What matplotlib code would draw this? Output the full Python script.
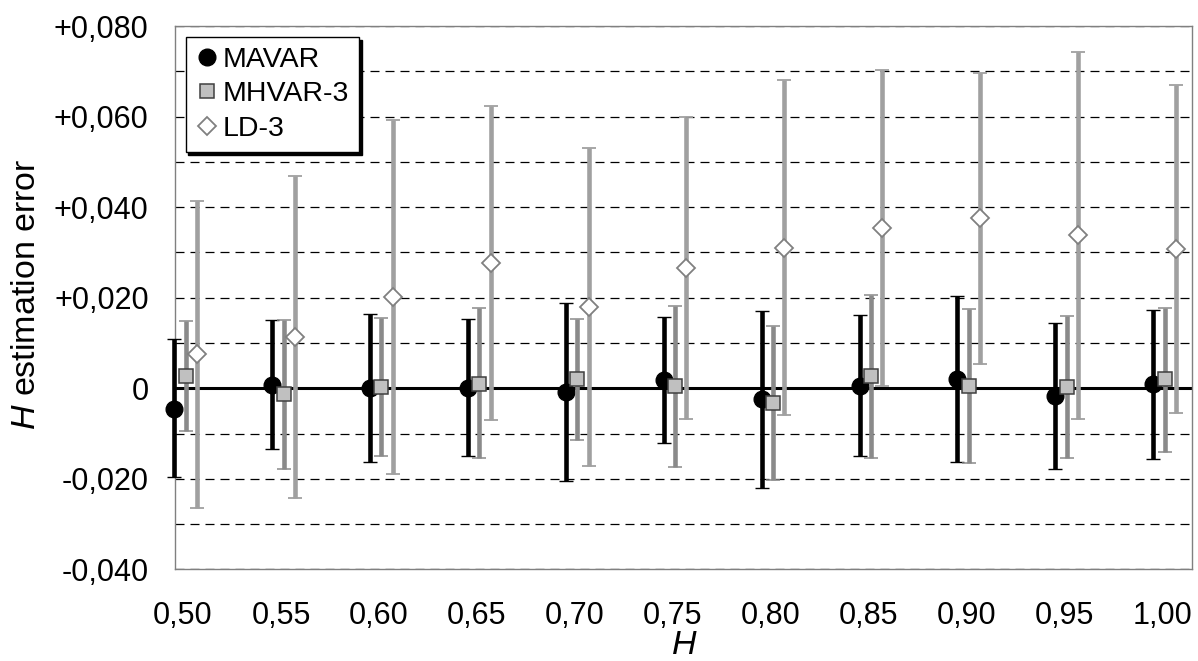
import numpy as np
import matplotlib
matplotlib.use("Agg")
import matplotlib.pyplot as plt
from matplotlib.lines import Line2D

plt.rcParams['font.family'] = ['Liberation Sans', 'DejaVu Sans']
plt.rcParams['mathtext.fontset'] = 'custom'
plt.rcParams['mathtext.it'] = 'Liberation Sans:italic'
plt.rcParams['mathtext.rm'] = 'Liberation Sans'

# Hurst parameter values
H = np.array([0.50, 0.55, 0.60, 0.65, 0.70, 0.75, 0.80, 0.85, 0.90, 0.95, 1.00])
h_labels = ["0,50", "0,55", "0,60", "0,65", "0,70", "0,75", "0,80", "0,85", "0,90", "0,95", "1,00"]

# mean estimation error and the ends of each error bar
mavar_mean = np.array([-0.0045, 0.0008, 0.0000, 0.0001, -0.0009, 0.0018, -0.0023, 0.0006, 0.0020, -0.0018, 0.0009])
mavar_hi = np.array([0.0109, 0.0150, 0.0164, 0.0152, 0.0189, 0.0158, 0.0170, 0.0161, 0.0203, 0.0143, 0.0172])
mavar_lo = np.array([-0.0196, -0.0135, -0.0162, -0.0149, -0.0206, -0.0122, -0.0220, -0.0149, -0.0163, -0.0179, -0.0157])

mhvar_mean = np.array([0.0028, -0.0013, 0.0002, 0.0010, 0.0020, 0.0004, -0.0033, 0.0026, 0.0006, 0.0003, 0.0020])
mhvar_hi = np.array([0.0149, 0.0150, 0.0156, 0.0177, 0.0154, 0.0182, 0.0137, 0.0206, 0.0174, 0.0160, 0.0178])
mhvar_lo = np.array([-0.0094, -0.0179, -0.0150, -0.0155, -0.0115, -0.0174, -0.0202, -0.0155, -0.0165, -0.0154, -0.0141])

ld_mean = np.array([0.0076, 0.0113, 0.0202, 0.0276, 0.0180, 0.0265, 0.0309, 0.0354, 0.0375, 0.0338, 0.0308])
ld_hi = np.array([0.0414, 0.0468, 0.0593, 0.0623, 0.0531, 0.0598, 0.0680, 0.0703, 0.0697, 0.0743, 0.0669])
ld_lo = np.array([-0.0264, -0.0242, -0.0190, -0.0070, -0.0172, -0.0069, -0.0060, 0.0005, 0.0054, -0.0069, -0.0054])

y_ticks = [-0.04, -0.02, 0.0, 0.02, 0.04, 0.06, 0.08]
y_labels = ["-0,040", "-0,020", "0", "+0,020", "+0,040", "+0,060", "+0,080"]

fig = plt.figure(figsize=(11.98, 6.61), dpi=100)
ax = fig.add_axes([0.1461, 0.1387, 0.8489, 0.8219])

ax.set_xlim(0.4959, 1.0153)
ax.set_ylim(-0.04, 0.08)

# dashed grid every 0.010
ax.set_yticks(y_ticks)
ax.set_yticklabels(y_labels)
ax.set_yticks(np.arange(-0.04, 0.0801, 0.01), minor=True)
ax.grid(axis='y', which='both', color='black', lw=0.9, ls=(0, (7.2, 4.8)), zorder=0)
ax.axhline(0, color='black', lw=2.2, zorder=1)

ax.set_xticks(H)
ax.set_xticklabels(h_labels)
ax.tick_params(axis='both', which='both', length=0, labelsize=22)
ax.tick_params(axis='y', pad=19)
ax.tick_params(axis='x', pad=23)

for sp in ax.spines.values():
    sp.set_color('#808080')
    sp.set_linewidth(1.0)

series = [
    (H - 0.0045, mavar_mean, mavar_lo, mavar_hi, 'black',
     dict(marker='o', ms=12, mfc='black', mec='black', mew=1)),
    (H + 0.0013, mhvar_mean, mhvar_lo, mhvar_hi, '#8a8a8a',
     dict(marker='s', ms=10, mfc='#c0c0c0', mec='#404040', mew=1.1)),
    (H + 0.0071, ld_mean, ld_lo, ld_hi, '#a0a0a0',
     dict(marker='D', ms=9.5, mfc='white', mec='#808080', mew=1.3)),
]
for i, (x, m, lo, hi, c, mk) in enumerate(series):
    err = [m - lo, hi - m]
    ax.errorbar(x, m, yerr=err, ls='none', ecolor=c, elinewidth=3.3,
                capsize=4.7, capthick=3, zorder=3 + i, clip_on=False, **mk)

handles = [
    Line2D([], [], ls='none', marker='o', ms=12, mfc='black', mec='black'),
    Line2D([], [], ls='none', marker='s', ms=10, mfc='#c0c0c0', mec='#404040', mew=1.1),
    Line2D([], [], ls='none', marker='D', ms=9.5, mfc='white', mec='#808080', mew=1.3),
]
leg = ax.legend(handles, ["MAVAR", "MHVAR-3", "LD-3"], loc='upper left',
                bbox_to_anchor=(0.0105, 0.980), borderaxespad=0, fontsize=20.5,
                handlelength=0.8, handletextpad=0.15, borderpad=0.35,
                labelspacing=0.3, fancybox=False, framealpha=1,
                shadow={'color': 'black', 'alpha': 1})
leg.get_frame().set_edgecolor('black')
leg.get_frame().set_linewidth(1.0)
leg.set_zorder(10)

fig.text(27 / 1198, 1 - 294 / 661, "$H$ estimation error", rotation=90,
         ha='center', va='center', fontsize=24.5)
fig.text(684 / 1198, 1 - 646 / 661, "$H$", ha='center', va='center', fontsize=24.5)

fig.savefig("out.png", dpi=100)
